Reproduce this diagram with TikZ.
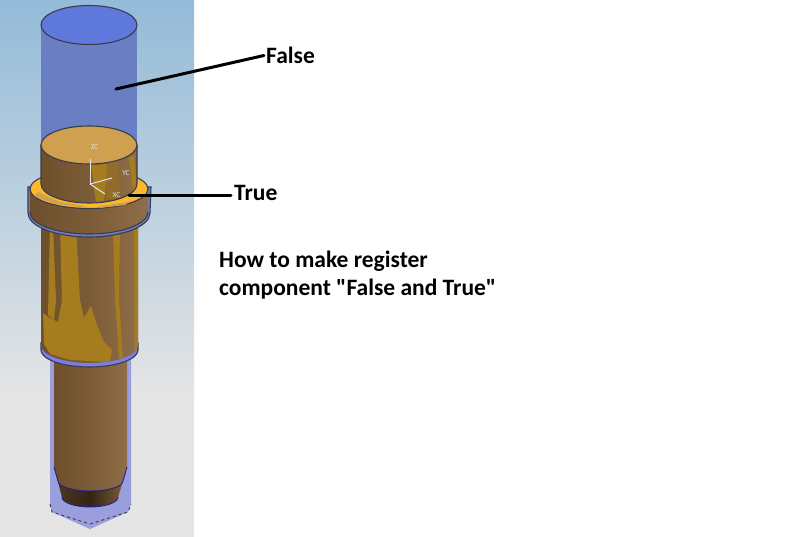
\documentclass[tikz,border=0pt]{standalone}
\usepackage{fontspec}
\setmainfont[Ligatures=TeXOff]{Carlito}
\definecolor{skytop}{HTML}{94BBD9}
\definecolor{skylow}{HTML}{E5E5E5}
\definecolor{ghost}{HTML}{6A7EC3}
\definecolor{ghosttop}{HTML}{5F78DC}
\definecolor{ghostlow}{HTML}{9A9EDC}
\definecolor{brownl}{HTML}{6E4F2C}
\definecolor{brownm}{HTML}{7C5C38}
\definecolor{brownr}{HTML}{8F6D48}
\definecolor{gold}{HTML}{CFA04F}
\definecolor{streak}{HTML}{A57C1E}
\definecolor{ringy}{HTML}{FDB92E}
\definecolor{edge}{HTML}{3A3C4A}
\tikzset{
  outline/.style={draw=edge,line width=1.1pt},
  brownbody/.style={left color=brownl,right color=brownr,middle color=brownm},
  leader/.style={draw=black,line width=3pt,line cap=round},
  label/.style={inner sep=0pt,anchor=west,font=\fontsize{23.5}{28}\selectfont\bfseries},
  axislabel/.style={inner sep=0pt,text=white!75!gray,font=\fontsize{7.5}{9}\selectfont},
  axisline/.style={draw=white!80!gray,line width=1pt}
}
\begin{document}
\begin{tikzpicture}[x=1pt,y=-1pt]
      \useasboundingbox (0,0) rectangle (800,537);
      \fill[white] (0,0) rectangle (800,537);
      % background
      \shade[top color=skytop,bottom color=skylow] (0,0) rectangle (194,400);
      \fill[skylow] (0,400) rectangle (194,537);
      % false part, top
      \fill[ghost] (41,25) rectangle (137,150);
      \draw[outline,fill=ghosttop] (89,25) ellipse [x radius=48,y radius=19.5];
      % false part, bottom
      \fill[ghostlow] (50,360) -- (50,504) -- (52,512) -- (90,529) -- (128,512) -- (131,504) -- (131,360) -- cycle;
      \draw[edge,dashed,line width=.9pt] (50,504) -- (52,512) -- (90,524) -- (128,512) -- (131,504);
      % lower shaft
      \path[brownbody] (54,360) -- (54,467) -- (62,497) arc [start angle=180,end angle=0,x radius=28,y radius=10] -- (127,467) -- (127,360) -- cycle;
      \path[left color=brownl!70!black,right color=brownm,middle color=brownl!45!black] (58,481) -- (62,497) arc [start angle=180,end angle=0,x radius=28,y radius=10] -- (123,481) arc [start angle=0,end angle=180,x radius=32.5,y radius=10] -- cycle;
      \draw[draw=blue!40!edge,line width=.9pt] (54,467) -- (58,481) arc [start angle=180,end angle=0,x radius=32.5,y radius=10] -- (127,467);
      \draw[draw=blue!40!edge,line width=.9pt] (62,497) arc [start angle=180,end angle=0,x radius=28,y radius=10];
      % main body
      \draw[outline,fill=ghostlow!80!blue] (41,343) -- (41,350) arc [start angle=180,end angle=0,x radius=48.5,y radius=17] -- (138,343) -- cycle;
      \path[brownbody] (41,225) -- (41,345) arc [start angle=180,end angle=0,x radius=48.5,y radius=18] -- (138,225) -- cycle;
      \fill[streak] (50,225) -- (53,225) -- (56,300) -- (54,320) -- (48,315) -- cycle;
      \fill[streak] (60,225) -- (76,225) -- (80,300) -- (84,318) -- (91,306) -- (97,325) -- (104,342) -- (112,350) -- (110,362) -- (70,360) -- (50,354) -- (44,344) -- (43,313) -- (50,318) -- (58,322) -- (62,300) -- cycle;
      \fill[streak] (113,225) -- (120,225) -- (119,300) -- (123,358) -- (119,358) -- (115,300) -- cycle;
      \fill[streak] (134,225) -- (138,225) -- (138,345) -- (135,352) -- cycle;
      % flange
      \draw[outline,fill=ghost] (28,187) -- (28,213) arc [start angle=180,end angle=0,x radius=61,y radius=24] -- (151,187) -- cycle;
      \path[brownbody] (30,188) -- (30,212) arc [start angle=180,end angle=0,x radius=59,y radius=22] -- (148,188) -- cycle;
      \draw[edge,line width=1.1pt] (30,212) arc [start angle=180,end angle=0,x radius=59,y radius=22];
      \draw[outline,fill=ringy] (89,189) ellipse [x radius=59,y radius=19.5];
      \fill[gold] (38,192) -- (60,202) -- (85,206) -- (85,207.5) -- (55,204) -- (34,196) -- cycle;
      \fill[gold] (100,206) -- (128,202) -- (132,200) -- (125,205) -- (100,208) -- cycle;
      % true part
      \path[brownbody] (41,145) -- (41,184) arc [start angle=180,end angle=0,x radius=48,y radius=19] -- (137,145) -- cycle;
      \fill[streak] (91,165) -- (108,164) -- (104,201) -- (96,202) -- cycle;
      \fill[streak!50!brownm] (107,163) -- (118,160) -- (120,198) -- (106,200) -- cycle;
      \fill[streak] (129,158) -- (134,156) -- (137,186) -- (133,192) -- cycle;
      \draw[outline] (41,145) -- (41,184) arc [start angle=180,end angle=0,x radius=48,y radius=19] -- (137,145);
      \draw[outline,fill=gold] (89,145) ellipse [x radius=48,y radius=19];
      % axes
      \coordinate (origin) at (90,184);
      \coordinate (zend) at (90,159);
      \coordinate (yend) at (112,178);
      \coordinate (xend) at (105,194);
      \draw[axisline] (origin) -- (zend);
      \draw[axisline] (origin) -- (yend);
      \draw[axisline] (origin) -- (xend);
      \node[axislabel] (zc) at (94.5,147) {ZC};
      \node[axislabel] (yc) at (126,173) {YC};
      \node[axislabel] (xc) at (116.5,195) {XC};
      % labels
      \coordinate (falsepart) at (116,89);
      \coordinate (truepart) at (129,196);
      \node[label] (false) at (266,55.5) {False};
      \node[label] (true) at (234,193) {True};
      \node[label] (howto) at (219,261) {How to make register};
      \node[label] (comp) at (219,289.5) {component "False and True"};
      \draw[leader] (falsepart) -- ([xshift=-2pt]false.west);
      \draw[leader] (truepart) -- ([xshift=-3pt]true.west |- truepart);
    \end{tikzpicture}
\end{document}
